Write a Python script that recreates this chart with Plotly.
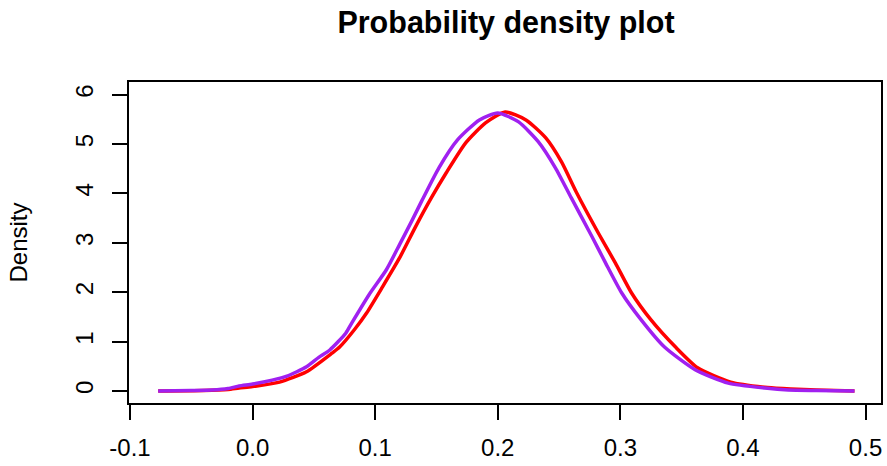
import plotly.graph_objects as go

# Density estimates of two samples (x values and density heights)
red_x = [-0.077, -0.04, -0.02, -0.011, 0.0, 0.022, 0.044, 0.065, 0.071, 0.083,
         0.093, 0.106, 0.120, 0.133, 0.146, 0.158, 0.174, 0.190, 0.206, 0.223,
         0.239, 0.252, 0.264, 0.282, 0.296, 0.309, 0.325, 0.345, 0.363, 0.39,
         0.42, 0.439, 0.46, 0.491]
red_y = [0.0, 0.01, 0.03, 0.06, 0.09, 0.18, 0.39, 0.77, 0.89, 1.24,
         1.58, 2.11, 2.70, 3.33, 3.92, 4.42, 5.03, 5.43, 5.65, 5.49,
         5.13, 4.64, 4.03, 3.20, 2.59, 1.99, 1.44, 0.89, 0.47, 0.18,
         0.07, 0.04, 0.02, 0.0]

purple_x = [-0.077, -0.05, -0.033, -0.02, -0.011, 0.0, 0.016, 0.028, 0.044, 0.054,
            0.063, 0.076, 0.081, 0.095, 0.109, 0.120, 0.130, 0.138, 0.152, 0.167,
            0.185, 0.200, 0.217, 0.233, 0.247, 0.260, 0.277, 0.288, 0.301, 0.317,
            0.336, 0.361, 0.388, 0.418, 0.437, 0.46, 0.491]
purple_y = [0.0, 0.01, 0.02, 0.05, 0.10, 0.14, 0.22, 0.30, 0.49, 0.68,
            0.83, 1.17, 1.38, 1.95, 2.45, 2.97, 3.45, 3.85, 4.52, 5.08,
            5.49, 5.63, 5.45, 5.05, 4.52, 3.91, 3.12, 2.59, 1.99, 1.44,
            0.89, 0.43, 0.16, 0.06, 0.02, 0.01, 0.0]

x_ticks = [-0.1, 0.0, 0.1, 0.2, 0.3, 0.4, 0.5]
x_tick_text = ["-0.1", "0.0", "0.1", "0.2", "0.3", "0.4", "0.5"]
y_ticks = [0, 1, 2, 3, 4, 5, 6]

FONT = "Liberation Sans, Arial, sans-serif"

fig = go.Figure()
fig.add_trace(go.Scatter(x=red_x, y=red_y, mode="lines",
                         line=dict(color="#FF0000", width=3.5, shape="spline", smoothing=0.6),
                         showlegend=False))
fig.add_trace(go.Scatter(x=purple_x, y=purple_y, mode="lines",
                         line=dict(color="#A020F0", width=3.5, shape="spline", smoothing=0.6),
                         showlegend=False))

fig.update_layout(
    width=887, height=466,
    margin=dict(l=129, r=4, t=82, b=63),
    paper_bgcolor="white", plot_bgcolor="white",
    font=dict(family=FONT, color="black", size=24),
    title=dict(text="<b>Probability density plot</b>", x=0.5705, xanchor="center",
               y=0.952, yanchor="middle", font=dict(size=30.5, family=FONT)),
)
fig.update_xaxes(
    range=[-0.1008, 0.5126], tickvals=x_ticks, ticktext=x_tick_text,
    showgrid=False, zeroline=False, showline=True, mirror=True,
    linecolor="black", linewidth=1.5, ticks="outside", ticklen=15,
    tickwidth=1.5, tickcolor="black", tickfont=dict(size=24),
    ticklabelstandoff=7,
)
fig.update_yaxes(
    range=[-0.243, 6.258], tickvals=y_ticks,
    showgrid=False, zeroline=False, showline=True, mirror=True,
    linecolor="black", linewidth=1.5, ticks="outside", ticklen=15,
    tickwidth=1.5, tickcolor="black", tickfont=dict(size=24), tickangle=-90,
    ticklabelstandoff=10,
    title=dict(text="Density", font=dict(size=24), standoff=36),
)

fig.write_html("out.html")
